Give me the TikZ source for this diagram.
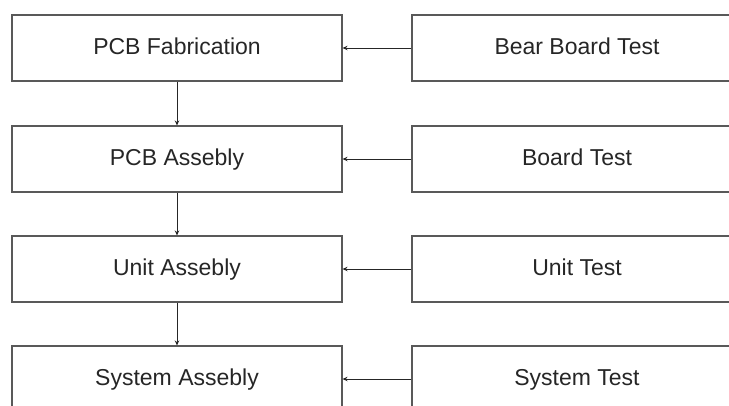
\documentclass[tikz,border=0pt]{standalone}
\usepackage{fontspec}
\setmainfont{Liberation Sans}
\usetikzlibrary{arrows.meta}
\begin{document}
\begin{tikzpicture}[x=1pt,y=-1pt,
  stage/.style={draw=black!65, line width=1.1pt, fill=white,
    minimum width=330pt, minimum height=66pt, inner sep=0pt,
    text height=17pt, text depth=5pt,
    text=black!85, font=\fontsize{23}{27}\selectfont},
  flow/.style={draw=black!85, line width=0.9pt,
    -{Stealth[length=5pt,width=4.5pt]}}]
  \useasboundingbox (0,0) rectangle (729,405);
  \clip (0,0) rectangle (729,405);
  % process chain (left) and matching tests (right)
  \node[stage] (fab)  at (177,48)  {PCB Fabrication};
  \node[stage] (pcba) at (177,159) {PCB Assebly};
  \node[stage] (unit) at (177,269) {Unit Assebly};
  \node[stage] (sys)  at (177,379) {System Assebly};
  \node[stage] (bbt)  at (577,48)  {Bear Board Test};
  \node[stage] (bt)   at (577,159) {Board Test};
  \node[stage] (ut)   at (577,269) {Unit Test};
  \node[stage] (st)   at (577,379) {System Test};
  % downward flow
  \draw[flow] (fab) -- (pcba);
  \draw[flow] (pcba) -- (unit);
  \draw[flow] (unit) -- (sys);
  % test feedback
  \draw[flow] (bbt) -- (fab);
  \draw[flow] (bt) -- (pcba);
  \draw[flow] (ut) -- (unit);
  \draw[flow] (st) -- (sys);
\end{tikzpicture}
\end{document}
